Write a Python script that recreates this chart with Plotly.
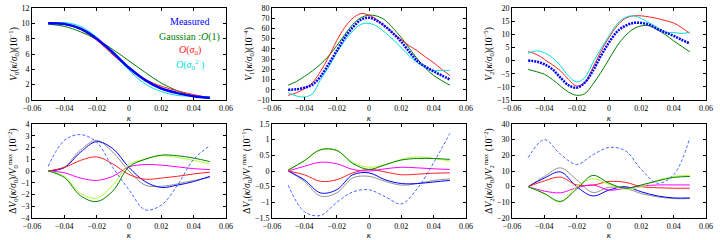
import plotly.graph_objects as go

# ---------------- data ----------------
k11 = [-0.05, -0.04, -0.03, -0.02, -0.01, 0.0, 0.01, 0.02, 0.03, 0.04, 0.05]

# Panel 1: V0 (10^-1)
v0_meas = [10.0, 9.9, 9.3, 8.0, 6.2, 4.2, 2.6, 1.5, 0.9, 0.5, 0.3]
v0_gauss = [9.9, 9.6, 8.9, 7.9, 6.6, 5.1, 3.6, 2.2, 1.2, 0.5, 0.2]
v0_o1 = [10.1, 9.9, 9.2, 7.8, 5.9, 4.1, 2.7, 1.8, 1.2, 0.7, 0.3]
v0_o2 = [9.9, 10.1, 9.6, 8.2, 6.1, 3.9, 2.1, 1.1, 0.6, 0.5, 0.4]

# Panel 2: V1 (10^-4)
k_v1 = [-0.05, -0.045, -0.04, -0.035, -0.03, -0.025, -0.02, -0.015, -0.01, -0.005, 0.0,
        0.005, 0.01, 0.015, 0.02, 0.025, 0.03, 0.035, 0.04, 0.045, 0.05]
v1_meas = [0, 0.5, 2, 5, 13, 25, 38, 51, 61, 68.5, 70.5, 67.5, 62, 55, 47, 37, 28, 22.5, 18, 14, 10]
v1_gauss = [4.5, 8, 13, 18.5, 25, 33, 43, 54, 64, 70.5, 73, 72, 68, 60, 51, 40.5, 30, 21, 14, 9, 4.5]
v1_o1 = [-5.5, -3, 1, 7, 18, 32, 48, 61, 70, 74.5, 73, 68.5, 62, 55.5, 49, 43, 38, 32, 26.5, 20, 14]
v1_o2 = [-3, -6, -7, -4, 10, 22, 36, 48, 57.5, 64, 65, 62, 56, 49, 41, 33, 26.5, 21.5, 19, 19, 19]

# Panel 3: V2 (10^-5)
v2_meas = [0, -0.4, -1.4, -3.3, -6.5, -9.4, -10.3, -8.4, -3.9, 1.8, 6.9,
           11, 13.2, 14.3, 14.3, 13.6, 12, 10.7, 9.4, 7.9, 6.5]
v2_gauss = [-3.4, -4.2, -5.2, -7.2, -9.7, -12, -13.2, -12.6, -9, -4.5, 0.5,
            5.6, 9.4, 12, 13.2, 13.2, 11.7, 9.8, 7.5, 5.4, 3.3]
v2_o1 = [3.4, 2.4, 0.5, -1.6, -3.9, -7.2, -9.7, -8.4, -2.7, 3.5, 8.8,
         13.2, 16, 17, 17, 16.6, 16, 15.2, 14.3, 12.5, 10.3]
v2_o2 = [2.8, 3.7, 3, 1.1, -2, -5.9, -8.1, -6.5, -0.8, 4.5, 9.4,
         13.9, 16.4, 17, 16, 14.3, 12.6, 10.7, 10.7, 10.3, 10.9]

# Panel 4: dV0 (10^-2)
d0_blue = [0, 0.28, 1.6, 2.5, 1.9, 0.3, -0.9, -1.4, -1.2, -0.9, -0.45]
d0_gray = [0, 0.35, 1.8, 2.6, 1.6, 0.0, -1.2, -1.3, -1.1, -0.8, -0.55]
d0_red = [0, 0.3, 0.9, 1.2, 0.6, -0.3, -0.7, -0.6, -0.45, -0.25, -0.1]
d0_mag = [0, -0.15, -0.6, -0.8, -0.45, 0.35, 0.55, 0.5, 0.35, 0.2, 0.12]
d0_yg = [0, -0.45, -1.9, -2.3, -1.2, 0.55, 1.0, 1.3, 1.15, 0.9, 0.6]
d0_green = [0, -0.55, -2.1, -2.6, -1.7, 0.35, 1.0, 1.35, 1.3, 1.1, 0.8]
d0_dash = [0.4, 2.6, 3.1, 2.45, 0.3, -1.6, -3.3, -2.9, -1.2, 1.0, 2.15]

# Panel 5: dV1 (10^-1)
d1_blue = [0, -0.28, -0.7, -0.6, -0.12, -0.06, -0.28, -0.4, -0.4, -0.35, -0.3]
d1_gray = [0, -0.33, -0.8, -0.7, -0.22, -0.17, -0.33, -0.45, -0.4, -0.3, -0.25]
d1_red = [0, -0.12, -0.33, -0.28, -0.06, 0.05, -0.03, -0.12, -0.1, -0.07, -0.06]
d1_mag = [0, 0.15, 0.28, 0.23, 0.05, 0.0, 0.07, 0.12, 0.1, 0.07, 0.05]
d1_yg = [0.03, 0.32, 0.67, 0.65, 0.27, 0.12, 0.2, 0.37, 0.45, 0.4, 0.32]
d1_green = [0.03, 0.33, 0.68, 0.66, 0.24, 0.05, 0.2, 0.35, 0.4, 0.4, 0.37]
d1_dash = [-0.45, -1.3, -1.42, -1.0, -0.67, -0.6, -0.82, -1.05, -0.55, 0.27, 1.2]

# Panel 6: dV2 (10^-2)
d2_blue = [0, 5.5, 9.4, 0, -5.9, -2.2, 0, -3.3, -5.9, -7.2, -7.2]
d2_gray = [0, 6.5, 12, 4.4, -3.7, -0.4, -1, -4.4, -6.5, -7.6, -7.6]
d2_red = [0, 3.7, 6.1, 1.1, 1.0, 3.3, 2.8, 0, -0.7, -1, -1]
d2_mag = [0, -2.8, -3.9, -0.7, 1.1, -2.2, -1, 0.4, 1.1, 1.1, 1.1]
d2_yg = [0, -4.4, -9.8, 0, 5, 1.5, -1.5, 0, 4, 6.5, 7.2]
d2_green = [0, -4.4, -9.4, -1.5, 7.2, 2.2, -1, 1.1, 3.7, 5.9, 6.5]
d2_dash = [18.5, 30, 20.7, 14.2, 20.3, 25, 23, 11, 2.2, 7.6, 31]

x_ticks = [-0.06, -0.04, -0.02, 0, 0.02, 0.04, 0.06]

# ---------------- figure ----------------
FONT = "Liberation Serif"
fig = go.Figure()

xdom = [[32/720, 226/720], [272/720, 466/720], [512/720, 706/720]]
ydom_top = [1 - 100/240, 1 - 8/240]
ydom_bot = [1 - 218/240, 1 - 124/240]

BLUE = "#0000ff"
GREEN = "#008000"
RED = "#ff2020"
CYAN = "#00e0e0"
GRAY = "#909090"
MAG = "#ff00ff"
YG = "#adff2f"
DASH = "#4466ff"


def add(ax, x, y, color, width=1.0, dash="solid"):
    xa = "x" if ax == 1 else f"x{ax}"
    ya = "y" if ax == 1 else f"y{ax}"
    fig.add_trace(go.Scatter(x=x, y=y, mode="lines", xaxis=xa, yaxis=ya,
                             line=dict(color=color, width=width, dash=dash, shape="spline"),
                             showlegend=False, hoverinfo="skip"))


# top row
add(1, k11, v0_gauss, GREEN)
add(1, k11, v0_o1, RED)
add(1, k11, v0_o2, CYAN)
add(1, k11, v0_meas, BLUE, 2.5)

add(2, k_v1, v1_gauss, GREEN)
add(2, k_v1, v1_o1, RED)
add(2, k_v1, v1_o2, CYAN)
add(2, k_v1, v1_meas, BLUE, 2.5, "2px,1px")

add(3, k_v1, v2_gauss, GREEN)
add(3, k_v1, v2_o1, RED)
add(3, k_v1, v2_o2, CYAN)
add(3, k_v1, v2_meas, BLUE, 2.5, "2px,1px")

# bottom row
for ax, ser in [(4, [d0_gray, d0_blue, d0_red, d0_mag, d0_yg, d0_green, d0_dash]),
                (5, [d1_gray, d1_blue, d1_red, d1_mag, d1_yg, d1_green, d1_dash]),
                (6, [d2_gray, d2_blue, d2_red, d2_mag, d2_yg, d2_green, d2_dash])]:
    g, b, r, m, yg, gr, d = ser
    add(ax, k11, g, GRAY)
    add(ax, k11, b, BLUE)
    add(ax, k11, r, RED)
    add(ax, k11, m, MAG)
    add(ax, k11, yg, YG)
    add(ax, k11, gr, GREEN)
    add(ax, k11, d, DASH, 1, "3px,2px")

tickfont = dict(family=FONT, size=8, color="black")

yspecs = [
    (1, [0, 12], 2, "<i>V</i><sub>0</sub>(<i>κ</i>/<i>σ</i><sub>0</sub>)(10<sup>−1</sup>)"),
    (2, [-10, 80], 10, "<i>V</i><sub>1</sub>(<i>κ</i>/<i>σ</i><sub>0</sub>)(10<sup>−4</sup>)"),
    (3, [-15, 20], 5, "<i>V</i><sub>2</sub>(<i>κ</i>/<i>σ</i><sub>0</sub>)(10<sup>−5</sup>)"),
    (4, [-4, 4], 1, "Δ<i>V</i><sub>0</sub>(<i>κ</i>/<i>σ</i><sub>0</sub>)/<i>V</i><sub>0</sub><sup>max</sup> (10<sup>−2</sup>)"),
    (5, [-1.5, 1.5], 0.5, "Δ<i>V</i><sub>1</sub>(<i>κ</i>/<i>σ</i><sub>0</sub>)/<i>V</i><sub>1</sub><sup>max</sup> (10<sup>−1</sup>)"),
    (6, [-20, 40], 10, "Δ<i>V</i><sub>2</sub>(<i>κ</i>/<i>σ</i><sub>0</sub>)/<i>V</i><sub>2</sub><sup>max</sup> (10<sup>−2</sup>)"),
]

layout = dict(
    width=720, height=240,
    margin=dict(l=0, r=0, t=0, b=0),
    paper_bgcolor="white", plot_bgcolor="white",
    font=dict(family=FONT, size=9, color="black"),
    showlegend=False,
)

for ax, yr, dt, title in yspecs:
    col = (ax - 1) % 3
    row = (ax - 1) // 3
    xk = "xaxis" if ax == 1 else f"xaxis{ax}"
    yk = "yaxis" if ax == 1 else f"yaxis{ax}"
    xa = "x" if ax == 1 else f"x{ax}"
    ya = "y" if ax == 1 else f"y{ax}"
    layout[xk] = dict(domain=xdom[col], anchor=ya, range=[-0.06, 0.06], automargin=False,
                      tickvals=x_ticks, ticks="inside", ticklen=3, tickcolor="black",
                      showline=True, linecolor="black", linewidth=1, mirror="allticks",
                      showgrid=False, zeroline=False, tickfont=tickfont,
                      title=dict(text="<i>κ</i>", font=dict(family=FONT, size=9), standoff=0))
    layout[yk] = dict(domain=ydom_top if row == 0 else ydom_bot, anchor=xa, range=yr,
                      automargin=False,
                      dtick=dt, tick0=0, ticks="inside", ticklen=3, tickcolor="black",
                      showline=True, linecolor="black", linewidth=1, mirror="allticks",
                      showgrid=False, zeroline=False, tickfont=tickfont,
                      title=dict(text=title, font=dict(family=FONT, size=9.5), standoff=2))

fig.update_layout(**layout)

# legend-like text in panel 1
legend_items = [
    ("Measured", BLUE, 10.2),
    ("Gaussian :<i>O</i>(1)", GREEN, 8.2),
    ("<i>O</i>(<i>σ</i><sub>0</sub>)", RED, 6.5),
    ("<i>O</i>(<i>σ</i><sub>0</sub><sup>2</sup> )", CYAN, 4.6),
]
for txt, colr, yv in legend_items:
    fig.add_annotation(x=0.0375, y=yv, xref="x", yref="y", text=txt, showarrow=False,
                       font=dict(family=FONT, size=10, color=colr), xanchor="center")

fig.write_html("out.html", config={"displayModeBar": False},
               post_script="document.body.style.margin='0';")
